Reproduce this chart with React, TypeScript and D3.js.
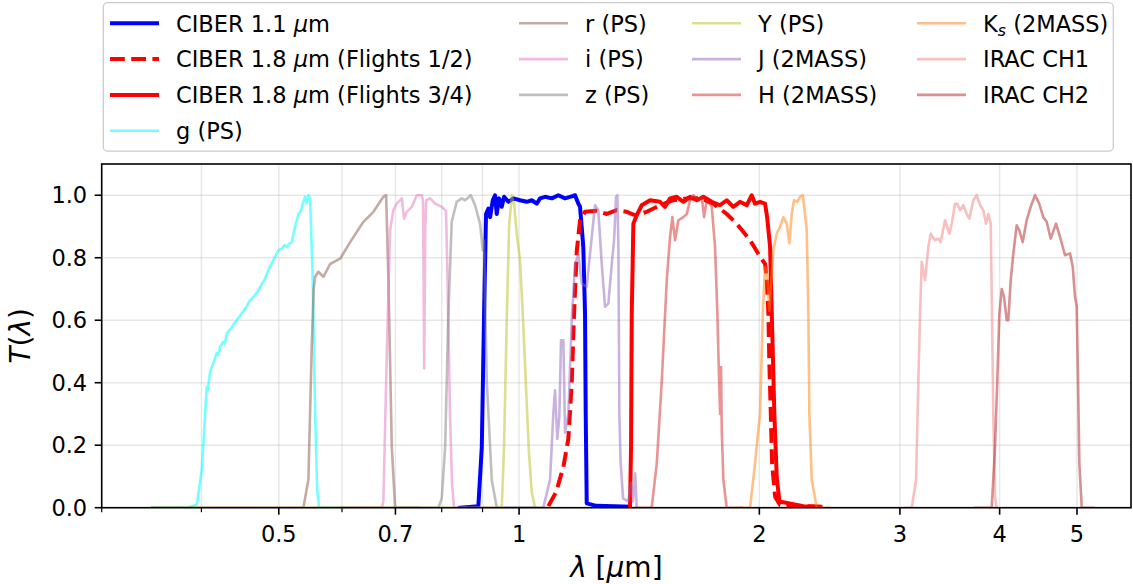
import React from "react";
import * as d3 from "d3";

// ---- transmission curves: wavelength [um] and T(lambda) ----
const ciber11Lam = [0.8435, 0.8892, 0.8981, 0.904, 0.9091, 0.9153, 0.9198, 0.927, 0.9331, 0.9377, 0.9439, 0.9513, 0.9577, 0.9696, 0.9837, 1.0029, 1.0225, 1.0373, 1.0524, 1.0624, 1.0779, 1.0989, 1.12, 1.1417, 1.1585, 1.1753, 1.1866, 1.1923, 1.2036, 1.2096, 1.212, 1.2155, 1.25, 1.3772];
const ciber11T = [0, 0.005, 0.195, 0.62, 0.94, 0.957, 0.93, 0.984, 1.0, 0.94, 0.99, 0.963, 0.995, 0.979, 0.99, 0.984, 0.979, 0.984, 0.973, 0.99, 0.995, 0.99, 1.0, 0.99, 0.995, 1.0, 0.973, 0.963, 0.835, 0.62, 0.3, 0.014, 0.006, 0.003];

const ciber18aLam = [1.0882, 1.1126, 1.1363, 1.1527, 1.1641, 1.1719, 1.181, 1.1923, 1.2096, 1.2513, 1.2879, 1.3256, 1.3645, 1.3976, 1.4454, 1.5018, 1.5606, 1.6224, 1.6855, 1.7518, 1.8208, 1.8741, 1.9474, 2.0043, 2.0333, 2.0434, 2.0529, 2.0586, 2.0672, 2.0749, 2.093, 2.123, 2.4293];
const ciber18aT = [0.005, 0.05, 0.13, 0.22, 0.4, 0.62, 0.82, 0.92, 0.947, 0.95, 0.94, 0.952, 0.947, 0.936, 0.947, 0.968, 0.984, 0.99, 0.99, 0.973, 0.94, 0.909, 0.856, 0.803, 0.78, 0.73, 0.62, 0.46, 0.3, 0.14, 0.035, 0.009, 0.002];

const ciber18bLam = [1.3772, 1.3813, 1.3841, 1.3906, 1.4041, 1.4245, 1.4592, 1.5018, 1.5236, 1.5458, 1.5758, 1.6063, 1.6375, 1.6695, 1.7015, 1.7435, 1.7851, 1.8201, 1.8551, 1.8915, 1.9284, 1.9567, 1.9753, 2.0043, 2.0333, 2.0454, 2.0628, 2.0766, 2.0885, 2.1028, 2.1191, 2.2707, 2.3823];
const ciber18bT = [0.003, 0.195, 0.62, 0.909, 0.936, 0.968, 0.984, 0.979, 0.963, 0.99, 0.995, 0.979, 0.995, 0.984, 0.995, 0.979, 0.968, 0.984, 0.963, 0.979, 0.968, 1.0, 0.973, 0.979, 0.973, 0.93, 0.835, 0.55, 0.3, 0.1, 0.02, 0.005, 0.003];

const gLam = [0.347, 0.385, 0.3947, 0.4004, 0.4043, 0.4062, 0.4075, 0.4101, 0.415, 0.418, 0.42, 0.4221, 0.426, 0.428, 0.4304, 0.436, 0.44, 0.443, 0.45, 0.456, 0.4603, 0.465, 0.47, 0.4738, 0.48, 0.486, 0.4922, 0.4994, 0.505, 0.508, 0.5117, 0.515, 0.5192, 0.523, 0.5291, 0.533, 0.536, 0.5394, 0.542, 0.5446, 0.5472, 0.5512, 0.5553, 0.5585, 0.5617, 0.6];
const gT = [0, 0, 0.01, 0.12, 0.3, 0.387, 0.375, 0.435, 0.47, 0.495, 0.49, 0.515, 0.53, 0.525, 0.558, 0.575, 0.59, 0.6, 0.625, 0.645, 0.664, 0.675, 0.69, 0.707, 0.73, 0.765, 0.792, 0.824, 0.83, 0.84, 0.835, 0.845, 0.85, 0.89, 0.94, 0.95, 0.975, 0.995, 0.975, 1.0, 0.99, 0.75, 0.3, 0.06, 0, 0];

const rLam = [0.347, 0.52, 0.5368, 0.5446, 0.5472, 0.5499, 0.553, 0.5553, 0.5605, 0.5687, 0.5798, 0.5969, 0.6143, 0.6323, 0.6383, 0.657, 0.6761, 0.6815, 0.686, 0.6927, 0.6994, 0.75];
const rT = [0, 0, 0, 0.09, 0.3, 0.52, 0.7, 0.739, 0.755, 0.739, 0.78, 0.797, 0.85, 0.899, 0.915, 0.947, 0.995, 1.0, 0.73, 0.195, 0, 0];

const iLam = [0.55, 0.673, 0.6761, 0.6829, 0.6894, 0.6958, 0.7027, 0.713, 0.7176, 0.7233, 0.7339, 0.7447, 0.7555, 0.758, 0.7606, 0.763, 0.765, 0.7738, 0.785, 0.8, 0.81, 0.814, 0.8194, 0.824, 0.829, 0.95];
const iT = [0, 0, 0.02, 0.5, 0.89, 0.952, 0.973, 0.99, 0.925, 0.947, 0.963, 1.0, 1.0, 0.98, 0.446, 0.9, 0.984, 0.99, 0.973, 0.963, 0.95, 0.7, 0.3, 0.08, 0, 0];

const zLam = [0.6, 0.7924, 0.8, 0.808, 0.8155, 0.8234, 0.8354, 0.8477, 0.8558, 0.87, 0.8808, 0.8935, 0.9006, 0.904, 0.911, 0.9243, 0.9377, 1.05];
const zT = [0, 0, 0.03, 0.195, 0.62, 0.915, 0.979, 0.99, 0.984, 1.0, 0.968, 0.909, 0.824, 0.856, 0.408, 0.089, 0, 0];

const yLam = [0.347, 0.94, 0.9513, 0.9577, 0.9651, 0.9716, 0.9792, 0.9857, 0.9942, 1.0029, 1.0125, 1.0225, 1.0293, 1.0373, 1.0472, 1.1];
const yT = [0, 0, 0, 0.2, 0.6, 0.9, 1.0, 0.97, 0.87, 0.79, 0.58, 0.33, 0.17, 0.05, 0, 0];

const jLam = [0.96, 1.0725, 1.0935, 1.1038, 1.1093, 1.1166, 1.1232, 1.1287, 1.1363, 1.1418, 1.1529, 1.1641, 1.1753, 1.1866, 1.1982, 1.2155, 1.2296, 1.245, 1.2569, 1.2693, 1.2815, 1.2939, 1.3066, 1.3153, 1.3229, 1.3279, 1.3318, 1.3355, 1.3401, 1.3499, 1.3696, 1.3813, 1.3893, 1.3976, 1.4043];
const jT = [0, 0, 0.09, 0.3, 0.376, 0.22, 0.29, 0.536, 0.536, 0.24, 0.3, 0.6, 0.78, 0.81, 0.717, 0.707, 0.835, 0.968, 0.952, 0.78, 0.643, 0.654, 0.78, 0.856, 0.995, 1.0, 0.835, 0.3, 0.15, 0.03, 0.02, 0.08, 0.02, 0.11, 0];

const hLam = [1.4, 1.4661, 1.4877, 1.5095, 1.5312, 1.5458, 1.5562, 1.5682, 1.5834, 1.6063, 1.6224, 1.6375, 1.6533, 1.6774, 1.694, 1.7052, 1.7188, 1.7435, 1.7601, 1.772, 1.7807, 1.786, 1.7909, 1.7944, 1.8028, 1.8201, 1.9];
const hT = [0, 0, 0.142, 0.408, 0.728, 0.867, 0.93, 0.856, 0.92, 0.93, 0.94, 0.984, 1.0, 0.984, 0.995, 0.93, 0.984, 0.963, 0.835, 0.62, 0.408, 0.3, 0.45, 0.248, 0.089, 0, 0];

const ksLam = [1.9, 1.9474, 1.9753, 1.9943, 2.0043, 2.0199, 2.0333, 2.0454, 2.0586, 2.0824, 2.1028, 2.123, 2.1433, 2.1645, 2.1807, 2.1958, 2.2105, 2.2317, 2.2491, 2.2667, 2.2819, 2.293, 2.3037, 2.3104, 2.3264, 2.3601, 2.45];
const ksT = [0, 0, 0.142, 0.25, 0.3, 0.62, 0.77, 0.75, 0.63, 0.824, 0.877, 0.899, 0.93, 0.909, 0.846, 0.94, 0.984, 0.979, 0.995, 1.0, 0.94, 0.888, 0.62, 0.3, 0.089, 0, 0];

const ch1Lam = [3.05, 3.1044, 3.1431, 3.1642, 3.1795, 3.195, 3.2257, 3.2564, 3.279, 3.32, 3.3517, 3.3748, 3.417, 3.4597, 3.4837, 3.5172, 3.5402, 3.568, 3.6028, 3.6378, 3.6655, 3.7079, 3.7442, 3.7805, 3.8164, 3.8459, 3.8717, 3.8985, 3.913, 3.9276, 3.9473, 3.9665];
const ch1T = [0, 0, 0.089, 0.408, 0.62, 0.787, 0.728, 0.835, 0.877, 0.856, 0.861, 0.85, 0.92, 0.877, 0.909, 0.973, 0.973, 0.952, 0.968, 0.94, 0.925, 0.984, 1.0, 0.968, 0.952, 0.909, 0.94, 0.909, 0.62, 0.3, 0.035, 0];

const ch2Lam = [3.726, 3.9099, 3.9473, 3.9733, 3.9968, 4.0245, 4.0508, 4.0824, 4.1014, 4.1299, 4.1613, 4.2018, 4.2338, 4.2751, 4.3246, 4.3747, 4.4299, 4.4844, 4.5364, 4.5814, 4.6345, 4.7066, 4.761, 4.83, 4.9004, 4.9389, 4.972, 4.9963, 5.015, 5.0344, 5.0692, 5.2414];
const ch2T = [0, 0, 0.195, 0.408, 0.62, 0.7, 0.675, 0.6, 0.6, 0.728, 0.814, 0.904, 0.888, 0.85, 0.92, 0.963, 1.0, 0.973, 0.93, 0.915, 0.861, 0.909, 0.867, 0.808, 0.814, 0.771, 0.675, 0.643, 0.408, 0.142, 0, 0];

// ---- axis ticks ----
const xMajorTicks = [0.5, 0.7, 1, 2, 3, 4, 5];
const xMajorLabels = ["0.5", "0.7", "1", "2", "3", "4", "5"];
const xMinorTicks = [0.3, 0.4, 0.6, 0.8, 0.9];
const yTicks = [0, 0.2, 0.4, 0.6, 0.8, 1.0];
const yTickLabels = ["0.0", "0.2", "0.4", "0.6", "0.8", "1.0"];

type Series = {
  key: string;
  lam: number[];
  t: number[];
  color: string;
  opacity: number;
  width: number;
  dash?: string;
};

const series: Series[] = [
  { key: "c11", lam: ciber11Lam, t: ciber11T, color: "#0000ff", opacity: 1, width: 4 },
  { key: "c18a", lam: ciber18aLam, t: ciber18aT, color: "#ff0000", opacity: 1, width: 4, dash: "14.8 6.4" },
  { key: "c18b", lam: ciber18bLam, t: ciber18bT, color: "#ff0000", opacity: 1, width: 4 },
  { key: "g", lam: gLam, t: gT, color: "#00ffff", opacity: 0.55, width: 2.6 },
  { key: "r", lam: rLam, t: rT, color: "#8c564b", opacity: 0.5, width: 2.6 },
  { key: "i", lam: iLam, t: iT, color: "#e377c2", opacity: 0.5, width: 2.6 },
  { key: "z", lam: zLam, t: zT, color: "#7f7f7f", opacity: 0.5, width: 2.6 },
  { key: "Y", lam: yLam, t: yT, color: "#bcbd22", opacity: 0.5, width: 2.6 },
  { key: "J", lam: jLam, t: jT, color: "#9467bd", opacity: 0.5, width: 2.6 },
  { key: "H", lam: hLam, t: hT, color: "#d62728", opacity: 0.5, width: 2.6 },
  { key: "Ks", lam: ksLam, t: ksT, color: "#ff7f0e", opacity: 0.5, width: 2.6 },
  { key: "ch1", lam: ch1Lam, t: ch1T, color: "#f08080", opacity: 0.5, width: 2.6 },
  { key: "ch2", lam: ch2Lam, t: ch2T, color: "#b22222", opacity: 0.5, width: 2.6 },
];

const FONT = "DejaVu Sans, sans-serif";
const FS = 22.5;

const W = 1133;
const H = 584;
const plot = { left: 101.7, right: 1131, top: 164, bottom: 507.7 };

const x = d3.scaleLog().domain([0.3, 5.843]).range([plot.left, plot.right]);
const y = d3.scaleLinear().domain([0, 1.1]).range([plot.bottom, plot.top]);

const mu = (
  <tspan fontStyle="italic">μ</tspan>
);

function legendLabel(key: string): React.ReactNode {
  switch (key) {
    case "c11":
      return <>CIBER 1.1 {mu}m</>;
    case "c18a":
      return <>CIBER 1.8 {mu}m (Flights 1/2)</>;
    case "c18b":
      return <>CIBER 1.8 {mu}m (Flights 3/4)</>;
    case "g":
      return "g (PS)";
    case "r":
      return "r (PS)";
    case "i":
      return "i (PS)";
    case "z":
      return "z (PS)";
    case "Y":
      return "Y (PS)";
    case "J":
      return "J (2MASS)";
    case "H":
      return "H (2MASS)";
    case "Ks":
      return (
        <>
          K<tspan fontStyle="italic" fontSize={FS * 0.7} dy={4}>s</tspan>
          <tspan dy={-4}> (2MASS)</tspan>
        </>
      );
    case "ch1":
      return "IRAC CH1";
    case "ch2":
      return "IRAC CH2";
  }
  return key;
}

const legendColumns: string[][] = [
  ["c11", "c18a", "c18b", "g"],
  ["r", "i", "z"],
  ["Y", "J", "H"],
  ["Ks", "ch1", "ch2"],
];
const legendColX = [110, 519, 692, 917];
const legendRowY = [23.3, 59.1, 94.9, 130.7];
const handleLen = 49;
const textGap = 17;

export default function App() {
  const line = d3
    .line<[number, number]>()
    .x((d) => x(d[0]))
    .y((d) => y(d[1]));

  const byKey: Record<string, Series> = {};
  series.forEach((s) => (byKey[s.key] = s));

  return (
    <svg
      width={W}
      height={H}
      viewBox={`0 0 ${W} ${H}`}
      style={{ position: "absolute", left: 0, top: 0, background: "#fff" }}
      fontFamily={FONT}
    >
      <defs>
        <clipPath id="plotArea">
          <rect x={plot.left} y={plot.top} width={plot.right - plot.left} height={plot.bottom - plot.top} />
        </clipPath>
      </defs>
      <rect x={0} y={0} width={W} height={H} fill="#fff" />

      {/* grid */}
      <g stroke="#b0b0b0" strokeOpacity={0.3} strokeWidth={1.4}>
        {yTicks.map((t) => (
          <line key={"gy" + t} x1={plot.left} x2={plot.right} y1={y(t)} y2={y(t)} />
        ))}
        {[...xMajorTicks, ...xMinorTicks].map((t) => (
          <line key={"gx" + t} x1={x(t)} x2={x(t)} y1={plot.top} y2={plot.bottom} />
        ))}
      </g>

      {/* transmission curves */}
      <g clipPath="url(#plotArea)" fill="none">
        {series.map((s) => (
          <path
            key={s.key}
            d={line(s.lam.map((l, i) => [l, s.t[i]] as [number, number])) || ""}
            stroke={s.color}
            strokeOpacity={s.opacity}
            strokeWidth={s.width}
            strokeDasharray={s.dash}
            strokeLinejoin="round"
            strokeLinecap={s.dash ? "butt" : "square"}
          />
        ))}
      </g>

      {/* axes frame */}
      <rect
        x={plot.left}
        y={plot.top}
        width={plot.right - plot.left}
        height={plot.bottom - plot.top}
        fill="none"
        stroke="#000"
        strokeWidth={1.6}
      />

      {/* y ticks */}
      {yTicks.map((t, i) => (
        <g key={"yt" + t}>
          <line x1={plot.left - 7} x2={plot.left} y1={y(t)} y2={y(t)} stroke="#000" strokeWidth={1.6} />
          <text x={plot.left - 14.5} y={y(t) + 8.2} fontSize={FS} textAnchor="end" fill="#000">
            {yTickLabels[i]}
          </text>
        </g>
      ))}

      {/* x ticks */}
      {xMajorTicks.map((t, i) => (
        <g key={"xt" + t}>
          <line x1={x(t)} x2={x(t)} y1={plot.bottom} y2={plot.bottom + 7} stroke="#000" strokeWidth={1.6} />
          <text x={x(t)} y={541.7} fontSize={FS} textAnchor="middle" fill="#000">
            {xMajorLabels[i]}
          </text>
        </g>
      ))}
      {xMinorTicks.map((t) => (
        <line key={"xm" + t} x1={x(t)} x2={x(t)} y1={plot.bottom} y2={plot.bottom + 4.5} stroke="#000" strokeWidth={1.2} />
      ))}

      {/* axis labels */}
      <text x={(plot.left + plot.right) / 2} y={577} fontSize={28} textAnchor="middle" fill="#000">
        <tspan fontStyle="italic">λ</tspan> [<tspan fontStyle="italic">μ</tspan>m]
      </text>
      <text
        transform={`translate(30, ${(plot.top + plot.bottom) / 2}) rotate(-90)`}
        fontSize={28}
        textAnchor="middle"
        fill="#000"
      >
        <tspan fontStyle="italic">T</tspan>(<tspan fontStyle="italic">λ</tspan>)
      </text>

      {/* legend */}
      <rect x={103.3} y={2.7} width={1010} height={148.5} rx={4.5} ry={4.5} fill="#fff" fillOpacity={0.8} stroke="#cccccc" strokeWidth={1.3} />
      {legendColumns.map((col, ci) =>
        col.map((key, ri) => {
          const s = byKey[key];
          const lx = legendColX[ci];
          const ly = legendRowY[ri];
          return (
            <g key={"lg" + key}>
              <line
                x1={lx}
                x2={lx + handleLen}
                y1={ly}
                y2={ly}
                stroke={s.color}
                strokeOpacity={s.opacity}
                strokeWidth={s.width}
                strokeDasharray={s.dash}
                strokeLinecap="butt"
              />
              <text x={lx + handleLen + textGap} y={ly + 8.2} fontSize={FS} fill="#000">
                {legendLabel(key)}
              </text>
            </g>
          );
        })
      )}
    </svg>
  );
}
